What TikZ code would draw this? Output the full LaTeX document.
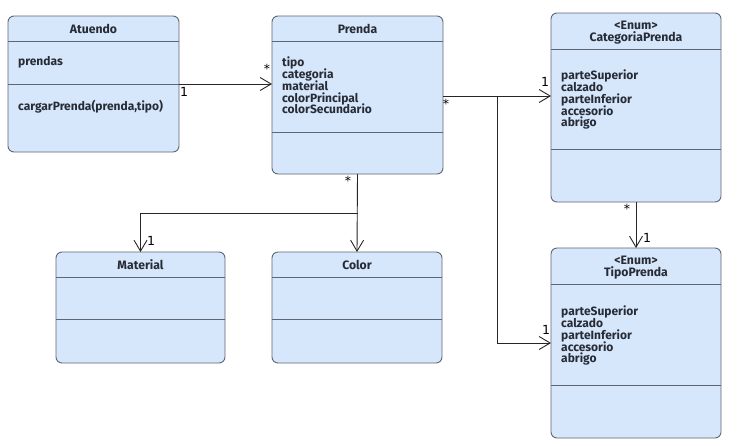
\documentclass[tikz,border=0pt]{standalone}
\usepackage{fontspec}
\setmainfont{Fira Sans}
\newfontfamily\multfont{DejaVu Sans}
\usetikzlibrary{arrows.meta}
\definecolor{boxfill}{HTML}{D6E6FB}
\definecolor{boxline}{HTML}{5F6673}
\definecolor{ink}{HTML}{262B35}

\begin{document}
% keep a fixed line pitch in multi-line labels
\setlength{\lineskiplimit}{-20pt}
\setlength{\lineskip}{0pt}
\begin{tikzpicture}[x=1pt,y=-1pt,
  classbox/.style={draw=boxline, fill=boxfill, rounded corners=6pt, line width=0.9pt,
    inner sep=0, outer sep=0, anchor=north west},
  divider/.style={draw=boxline, line width=0.9pt},
  title/.style={font=\fontsize{12.2}{12}\selectfont\bfseries,
    text=ink, align=center, inner sep=0},
  members/.style={font=\fontsize{12}{11.7}\selectfont\bfseries,
    text=ink, align=left, inner sep=0, anchor=north west},
  assoc/.style={draw=black!85, line width=0.9pt, -{Straight Barb[length=11pt,width=13pt]}},
  mult/.style={font=\multfont\fontsize{12.5}{13}\selectfont, text=black, inner sep=0}]
\useasboundingbox (0,0) rectangle (749,445);

% class boxes
\node[classbox, minimum width=171pt, minimum height=136pt] (atuendo)  at (8,16)  {};
\node[classbox, minimum width=171pt, minimum height=158pt] (prenda)   at (272,16) {};
\node[classbox, minimum width=170pt, minimum height=189pt] (categoria) at (551,13) {};
\node[classbox, minimum width=170pt, minimum height=190pt] (tipo)     at (551,248) {};
\node[classbox, minimum width=169pt, minimum height=111pt] (material) at (56,252) {};
\node[classbox, minimum width=170pt, minimum height=111pt] (color)    at (272,252) {};

% compartment separators
\draw[divider] (8,41) -- (179,41);   \draw[divider] (8,84) -- (179,84);
\draw[divider] (272,41) -- (443,41); \draw[divider] (272,132) -- (443,132);
\draw[divider] (551,49) -- (721,49); \draw[divider] (551,149) -- (721,149);
\draw[divider] (551,284) -- (721,284); \draw[divider] (551,385) -- (721,385);
\draw[divider] (56,277) -- (225,277); \draw[divider] (56,319) -- (225,319);
\draw[divider] (272,277) -- (442,277); \draw[divider] (272,319) -- (442,319);

% titles
\node[title] (tAtuendo) at (93.5,28.5) {Atuendo};
\node[title] (tPrenda) at (357.5,28.5) {Prenda};
\node[title] (tCategoria) at (636,32.5) {<Enum>\\CategoriaPrenda};
\node[title] (tTipo) at (636,268) {<Enum>\\TipoPrenda};
\node[title] (tMaterial) at (140.5,264.5) {Material};
\node[title] (tColor) at (357,264.5) {Color};

% members
\node[members] (mAtuendoA) at (18,56) {prendas};
\node[members] (mAtuendoM) at (18,100) {cargarPrenda(prenda,tipo)};
\node[members] (mPrenda) at (282,57) {tipo\\categoria\\material\\colorPrincipal\\colorSecundario};
\node[members] (mCategoria) at (561,70) {parteSuperior\\calzado\\parteInferior\\accesorio\\abrigo};
\node[members] (mTipo) at (561,306) {parteSuperior\\calzado\\parteInferior\\accesorio\\abrigo};

% associations
\draw[assoc] (atuendo.east) -- (atuendo.east -| prenda.west);
\coordinate (rowCat) at (prenda.east |- 0,96);
\coordinate (split) at (497,96);
\draw[assoc] (rowCat) -- (rowCat -| categoria.west);
\draw[assoc] (split) |- (tipo.west);
\draw[assoc] (categoria.south) -- (tipo.north);
\coordinate (fork) at (prenda.south |- 0,213);
\draw[assoc] (prenda.south) -- (color.north);
\draw[assoc] (fork) -| (material.north);

% multiplicities
\node[mult] (m1) at (184,92) {1};
\node[mult] (m2) at (267,69) {*};
\node[mult] (m3) at (446,104) {*};
\node[mult] (m4) at (545,82) {1};
\node[mult] (m5) at (546,330) {1};
\node[mult] (m6) at (627,209) {*};
\node[mult] (m7) at (647,238) {1};
\node[mult] (m8) at (348,181) {*};
\node[mult] (m9) at (151,241) {1};
\end{tikzpicture}
\end{document}
